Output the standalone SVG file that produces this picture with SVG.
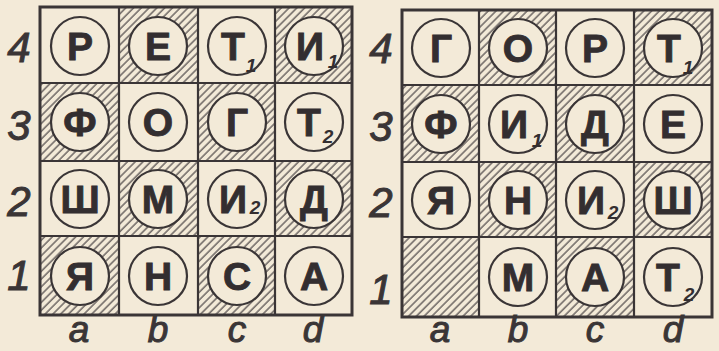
<svg xmlns="http://www.w3.org/2000/svg" width="719" height="351" viewBox="0 0 719 351">
<style>
.bg{fill:#f3ead8}
.hatch{fill:url(#h);stroke:none}
.grid{fill:none;stroke:#3a3536;stroke-width:2.2}
.frame{fill:none;stroke:#3a3536;stroke-width:3}
.c{fill:#f3ead8;stroke:#3a3536;stroke-width:2.2}
.L{font-family:"Liberation Sans",Arial,sans-serif;font-weight:bold;font-size:39px;fill:#332e30;stroke:#332e30;stroke-width:0.9;text-anchor:middle}
.s{font-family:"Liberation Sans",Arial,sans-serif;font-weight:bold;font-style:italic;font-size:19px;fill:#332e30;text-anchor:middle}
.lab{font-family:"Liberation Sans",Arial,sans-serif;font-style:italic;font-size:42px;fill:#3a3536;stroke:#3a3536;stroke-width:1;text-anchor:middle}
.fl{font-size:37px}
</style>
<defs>
<pattern id="h" width="5.5" height="5.5" patternUnits="userSpaceOnUse" patternTransform="rotate(45)">
<rect width="5.5" height="5.5" fill="#f3ead8"/>
<line x1="1" y1="0" x2="1" y2="5.5" stroke="#4a4445" stroke-width="1.2"/>
</pattern>
</defs>
<rect class="bg" x="0" y="0" width="719" height="351"/>

<!-- LEFT BOARD -->
<g id="board-left">
<g id="L-hatch">
<rect class="hatch" x="119" y="7" width="79" height="76"/>
<rect class="hatch" x="275" y="7" width="77" height="76"/>
<rect class="hatch" x="40" y="83" width="79" height="78"/>
<rect class="hatch" x="198" y="83" width="77" height="78"/>
<rect class="hatch" x="119" y="161" width="79" height="75"/>
<rect class="hatch" x="275" y="161" width="77" height="75"/>
<rect class="hatch" x="40" y="236" width="79" height="79"/>
<rect class="hatch" x="198" y="236" width="77" height="79"/>
</g>
<g id="L-grid">
<line class="grid" x1="119" y1="7" x2="119" y2="315"/>
<line class="grid" x1="198" y1="7" x2="198" y2="315"/>
<line class="grid" x1="275" y1="7" x2="275" y2="315"/>
<line class="grid" x1="40" y1="83" x2="352" y2="83"/>
<line class="grid" x1="40" y1="161" x2="352" y2="161"/>
<line class="grid" x1="40" y1="236" x2="352" y2="236"/>
<rect class="frame" x="40" y="7" width="312" height="308"/>
</g>
<g id="L-a4"><circle class="c" cx="80" cy="46" r="29"/><text class="L" x="80" y="60">Р</text></g>
<g id="L-b4"><circle class="c" cx="158" cy="46" r="29"/><text class="L" x="158" y="60">Е</text></g>
<g id="L-c4"><circle class="c" cx="237" cy="46" r="29"/><text class="L" x="233" y="60">Т</text><text class="s" x="251" y="72">1</text></g>
<g id="L-d4"><circle class="c" cx="314" cy="46" r="29"/><text class="L" x="310" y="60">И</text><text class="s" x="333" y="68">1</text></g>
<g id="L-a3"><circle class="c" cx="80" cy="122" r="29"/><text class="L" x="80" y="136">Ф</text></g>
<g id="L-b3"><circle class="c" cx="158" cy="122" r="29"/><text class="L" x="158" y="136">О</text></g>
<g id="L-c3"><circle class="c" cx="237" cy="122" r="29"/><text class="L" x="237" y="136">Г</text></g>
<g id="L-d3"><circle class="c" cx="314" cy="122" r="29"/><text class="L" x="309" y="136">Т</text><text class="s" x="328" y="143">2</text></g>
<g id="L-a2"><circle class="c" cx="80" cy="199" r="29"/><text class="L" x="80" y="213">Ш</text></g>
<g id="L-b2"><circle class="c" cx="158" cy="199" r="29"/><text class="L" x="158" y="213">М</text></g>
<g id="L-c2"><circle class="c" cx="237" cy="199" r="29"/><text class="L" x="233" y="213">И</text><text class="s" x="255" y="214">2</text></g>
<g id="L-d2"><circle class="c" cx="314" cy="199" r="29"/><text class="L" x="314" y="213">Д</text></g>
<g id="L-a1"><circle class="c" cx="80" cy="276" r="29"/><text class="L" x="80" y="290">Я</text></g>
<g id="L-b1"><circle class="c" cx="158" cy="276" r="29"/><text class="L" x="158" y="290">Н</text></g>
<g id="L-c1"><circle class="c" cx="237" cy="276" r="29"/><text class="L" x="237" y="290">С</text></g>
<g id="L-d1"><circle class="c" cx="314" cy="276" r="29"/><text class="L" x="314" y="290">А</text></g>
<g id="L-labels">
<text class="lab" x="19" y="62">4</text>
<text class="lab" x="19" y="140">3</text>
<text class="lab" x="19" y="216">2</text>
<text class="lab" x="19" y="290">1</text>
<text class="lab fl" x="79" y="342">a</text>
<text class="lab fl" x="158" y="342">b</text>
<text class="lab fl" x="237" y="342">c</text>
<text class="lab fl" x="313" y="342">d</text>
</g>
</g>

<!-- RIGHT BOARD -->
<g id="board-right">
<g id="R-hatch">
<rect class="hatch" x="479" y="10" width="77" height="75"/>
<rect class="hatch" x="634" y="10" width="78" height="75"/>
<rect class="hatch" x="402" y="85" width="77" height="77"/>
<rect class="hatch" x="556" y="85" width="78" height="77"/>
<rect class="hatch" x="479" y="162" width="77" height="75"/>
<rect class="hatch" x="634" y="162" width="78" height="75"/>
<rect class="hatch" x="402" y="237" width="77" height="80"/>
<rect class="hatch" x="556" y="237" width="78" height="80"/>
</g>
<g id="R-grid">
<line class="grid" x1="479" y1="10" x2="479" y2="317"/>
<line class="grid" x1="556" y1="10" x2="556" y2="317"/>
<line class="grid" x1="634" y1="10" x2="634" y2="317"/>
<line class="grid" x1="402" y1="85" x2="712" y2="85"/>
<line class="grid" x1="402" y1="162" x2="712" y2="162"/>
<line class="grid" x1="402" y1="237" x2="712" y2="237"/>
<rect class="frame" x="402" y="10" width="310" height="307"/>
</g>
<g id="R-a4"><circle class="c" cx="441" cy="48" r="29"/><text class="L" x="441" y="62">Г</text></g>
<g id="R-b4"><circle class="c" cx="518" cy="48" r="29"/><text class="L" x="518" y="62">О</text></g>
<g id="R-c4"><circle class="c" cx="595" cy="48" r="29"/><text class="L" x="595" y="62">Р</text></g>
<g id="R-d4"><circle class="c" cx="673" cy="48" r="29"/><text class="L" x="669" y="62">Т</text><text class="s" x="688" y="74">1</text></g>
<g id="R-a3"><circle class="c" cx="441" cy="124" r="29"/><text class="L" x="441" y="138">Ф</text></g>
<g id="R-b3"><circle class="c" cx="518" cy="124" r="29"/><text class="L" x="514" y="138">И</text><text class="s" x="537" y="147">1</text></g>
<g id="R-c3"><circle class="c" cx="595" cy="124" r="29"/><text class="L" x="595" y="138">Д</text></g>
<g id="R-d3"><circle class="c" cx="673" cy="124" r="29"/><text class="L" x="673" y="138">Е</text></g>
<g id="R-a2"><circle class="c" cx="441" cy="200" r="29"/><text class="L" x="441" y="214">Я</text></g>
<g id="R-b2"><circle class="c" cx="518" cy="200" r="29"/><text class="L" x="518" y="214">Н</text></g>
<g id="R-c2"><circle class="c" cx="595" cy="200" r="29"/><text class="L" x="591" y="214">И</text><text class="s" x="613" y="219">2</text></g>
<g id="R-d2"><circle class="c" cx="673" cy="200" r="29"/><text class="L" x="673" y="214">Ш</text></g>
<g id="R-b1"><circle class="c" cx="518" cy="277" r="29"/><text class="L" x="518" y="291">М</text></g>
<g id="R-c1"><circle class="c" cx="595" cy="277" r="29"/><text class="L" x="595" y="291">А</text></g>
<g id="R-d1"><circle class="c" cx="673" cy="277" r="29"/><text class="L" x="668" y="291">Т</text><text class="s" x="689" y="301">2</text></g>
<g id="R-labels">
<text class="lab" x="381" y="63">4</text>
<text class="lab" x="381" y="141">3</text>
<text class="lab" x="381" y="217">2</text>
<text class="lab" x="381" y="304">1</text>
<text class="lab fl" x="440" y="342">a</text>
<text class="lab fl" x="518" y="342">b</text>
<text class="lab fl" x="595" y="342">c</text>
<text class="lab fl" x="673" y="342">d</text>
</g>
</g>
</svg>
